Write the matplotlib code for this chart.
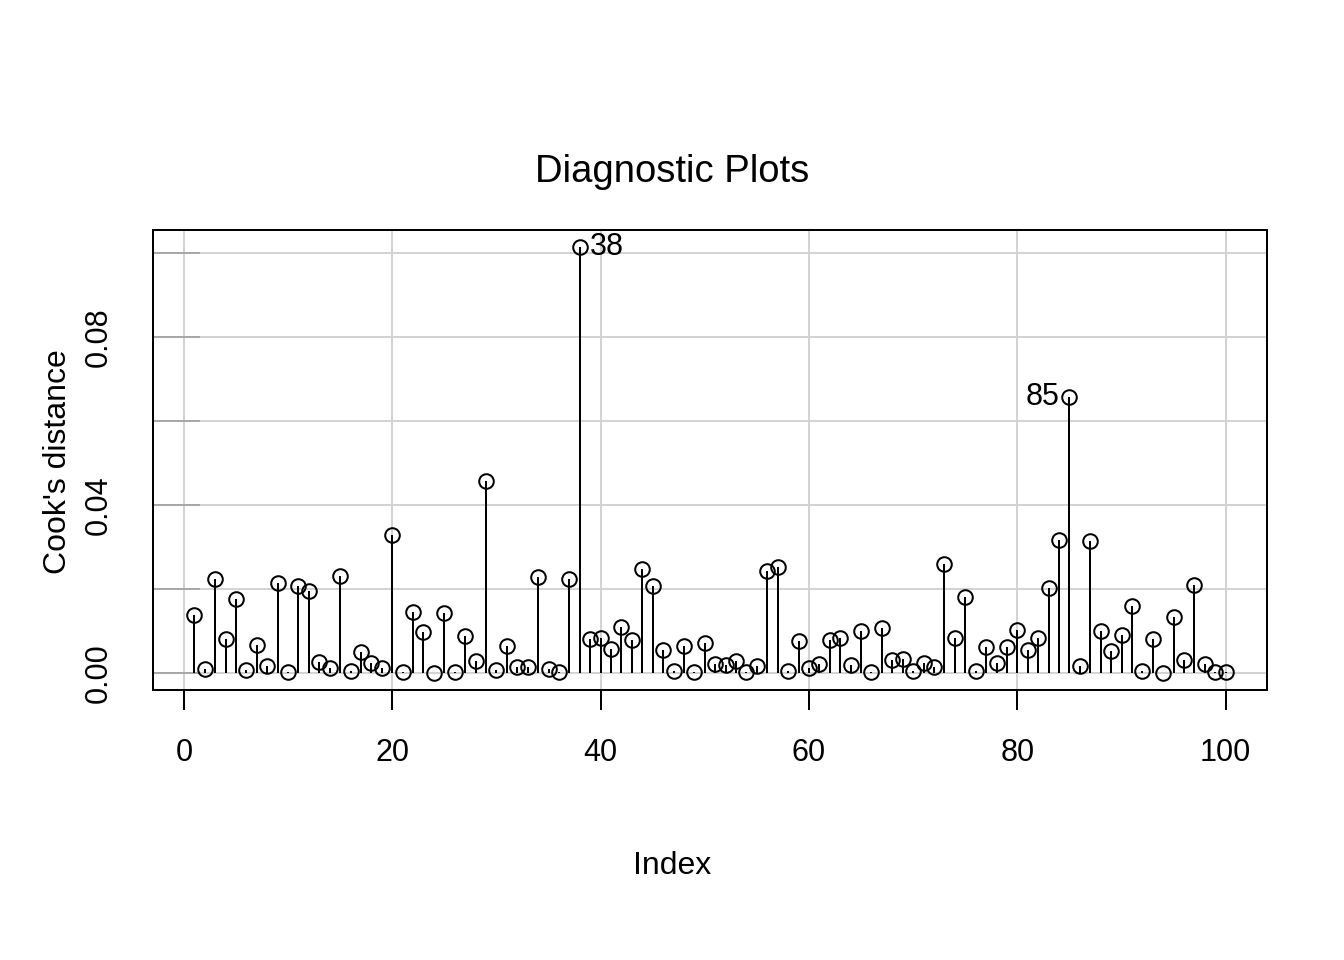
import numpy as np
import matplotlib
matplotlib.use("Agg")
import matplotlib.pyplot as plt

cooks_d = [
    0.0138, 0.0010, 0.0223, 0.0081, 0.0176, 0.0007, 0.0066, 0.0017, 0.0214, 0.0002,
    0.0207, 0.0195, 0.0026, 0.0012, 0.0230, 0.0005, 0.0050, 0.0024, 0.0012, 0.0328,
    0.0002, 0.0145, 0.0097, 0.0000, 0.0142, 0.0002, 0.0088, 0.0028, 0.0458, 0.0007,
    0.0064, 0.0014, 0.0014, 0.0228, 0.0010, 0.0002, 0.0223, 0.1014, 0.0081, 0.0083,
    0.0057, 0.0109, 0.0078, 0.0247, 0.0207, 0.0055, 0.0005, 0.0064, 0.0002, 0.0071,
    0.0021, 0.0019, 0.0028, 0.0002, 0.0017, 0.0242, 0.0252, 0.0005, 0.0076, 0.0012,
    0.0021, 0.0078, 0.0083, 0.0019, 0.0100, 0.0002, 0.0107, 0.0031, 0.0033, 0.0005,
    0.0024, 0.0014, 0.0259, 0.0083, 0.0180, 0.0005, 0.0062, 0.0024, 0.0062, 0.0102,
    0.0055, 0.0083, 0.0202, 0.0316, 0.0658, 0.0017, 0.0313, 0.0100, 0.0052, 0.0090,
    0.0159, 0.0005, 0.0081, 0.0000, 0.0133, 0.0031, 0.0209, 0.0021, 0.0002, 0.0002,
]
obs_index = np.arange(1, len(cooks_d) + 1)

# labelled outliers: (index, side)
flagged = [(38, "right"), (85, "left")]

x_ticks = [0, 20, 40, 60, 80, 100]
y_ticks = [0.00, 0.02, 0.04, 0.06, 0.08, 0.10]
y_tick_labels = ["0.00", "", "0.04", "", "0.08", ""]

plt.rcParams["font.family"] = ["Liberation Sans", "DejaVu Sans"]

fig = plt.figure(figsize=(13.44, 9.6), dpi=100)
ax = fig.add_axes([153 / 1344, 1 - 690 / 960, (1267 - 153) / 1344, 460 / 960])

lw = 1.44
grid_col = "#d3d3d3"

ax.set_xlim(1 - 0.04 * 99, 100 + 0.04 * 99)
ymax = max(cooks_d)
ax.set_ylim(-0.04 * ymax, ymax * 1.04)

# grid
for gx in x_ticks:
    ax.axvline(gx, color=grid_col, lw=lw, zorder=0)
for gy in y_ticks:
    ax.axhline(gy, color=grid_col, lw=lw, zorder=0)

ax.vlines(obs_index, 0, cooks_d, color="black", lw=lw, zorder=2)
ax.plot(obs_index, cooks_d, "o", ms=10.5, mfc="none", mec="black", mew=lw, zorder=3)

for idx, side in flagged:
    val = cooks_d[idx - 1]
    off = 7 if side == "right" else -7
    ax.annotate(str(idx), (idx, val), xytext=(off, 0), textcoords="offset points",
                ha="left" if side == "right" else "right", va="center", fontsize=22)

ax.set_xticks(x_ticks)
ax.set_yticks(y_ticks)
ax.set_yticklabels(y_tick_labels)
ax.tick_params(axis="x", direction="out", length=14.4, width=lw, pad=20, labelsize=22)
ax.tick_params(axis="y", direction="in", length=34, width=lw, color="#a8a8a8", pad=28, labelsize=22)
for lab in ax.get_yticklabels():
    lab.set_rotation(90)
    lab.set_va("center")

for sp in ax.spines.values():
    sp.set_linewidth(lw)

fig.text(0.5, 1 - 172 / 960, "Diagnostic Plots", ha="center", va="center", fontsize=27.5)
fig.text(0.5, 1 - 866 / 960, "Index", ha="center", va="center", fontsize=23)
fig.text(58 / 1344, 1 - 462 / 960, "Cook's distance", ha="center", va="center",
         rotation=90, fontsize=23)

fig.savefig("out.png", dpi=100)
